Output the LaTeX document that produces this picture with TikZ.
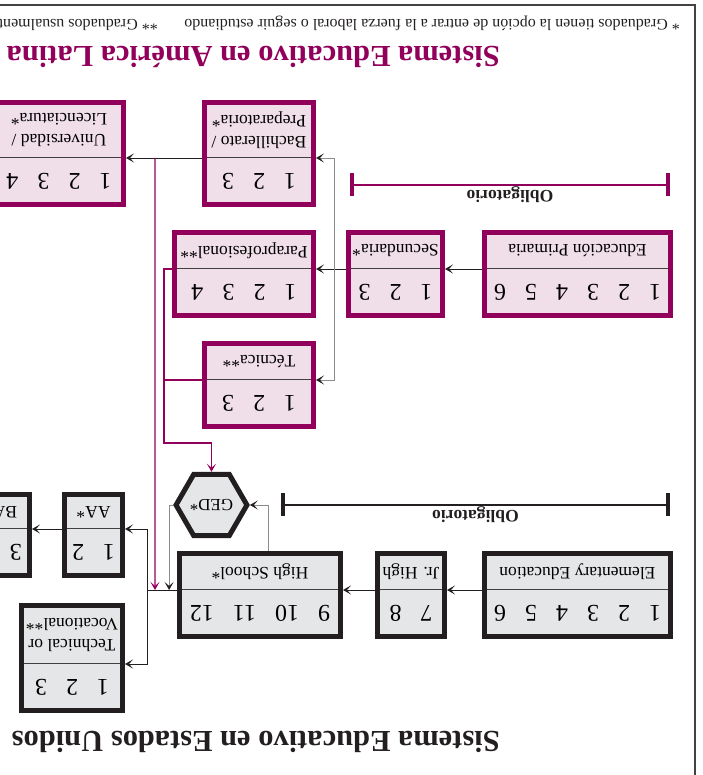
\documentclass[tikz,border=0pt]{standalone}
\usepackage{fontspec}
\setmainfont{Liberation Serif}
\usetikzlibrary{arrows.meta, positioning, calc, shapes.geometric}

\definecolor{vino}{RGB}{145,0,90}
\definecolor{rosa}{RGB}{240,222,232}
\definecolor{perla}{RGB}{229,230,232}
\definecolor{tinta}{RGB}{35,31,32}

\tikzset{
    >={Stealth[length=8pt, width=9pt, inset=4pt]},
    cajalat/.style={draw=vino, fill=rosa, line width=5pt, inner sep=0pt, outer sep=0pt},
    cajausa/.style={draw=tinta, fill=perla, line width=5pt, inner sep=0pt, outer sep=0pt},
    numeros/.style={font=\fontsize{24}{24}\selectfont, inner sep=0pt, outer sep=0pt, minimum height=46.5},
    cabecera/.style={font=\fontsize{17.5}{21}\selectfont, align=center, inner sep=0pt, outer sep=0pt},
    divisor/.style={draw=black!75, line width=1pt, shorten <=2.5pt, shorten >=2.5pt},
    flecha/.style={draw=tinta, line width=0.9pt, ->, shorten <=2.5pt, shorten >=2.5pt},
    ramal/.style={draw=black!45, line width=0.9pt, >={Stealth[length=8pt, width=9pt, inset=4pt, color=tinta]}},
    ruta/.style={draw=vino, line width=1.1pt},
    oblig/.style={{Bar[width=23pt, line width=4.5pt]}-{Bar[width=23pt, line width=4.5pt]}},
    rotulo/.style={font=\fontsize{17.5}{20}\selectfont\bfseries, text=tinta, inner sep=0.5pt},
    ged/.style={regular polygon, regular polygon sides=6, draw=tinta, fill=perla, line width=5pt,
        minimum size=57, inner sep=0pt, font=\fontsize{17}{17}\selectfont},
    nota/.style={font=\fontsize{16}{18}\selectfont, text=tinta, inner sep=0pt, anchor=base west},
    titulo/.style={font=\fontsize{30.5}{36}\selectfont\bfseries, inner sep=0pt, anchor=base west},
}

% #1 nombre, #2 caja, #3 esquina, #4 ancho, #5 alto del nombre, #6 anos, #7 nivel
\newcommand{\etapa}[7]{%
    \node[#2, minimum width=#4, minimum height=46.5+#5, anchor=north west] (#1-caja) at #3 {};
    \node[numeros, minimum width=#4, anchor=north] (#1-n) at (#1-caja.north) {#6};
    \node[cabecera, minimum width=#4, minimum height=#5, anchor=north] (#1) at (#1-n.south) {#7};
    \draw[divisor] (#1.north west) -- (#1.north east);
}
\newcommand{\esp}{\hspace{19pt}}

\begin{document}
\begin{tikzpicture}[x=1pt, y=-1pt, rotate=180, transform shape]
    \useasboundingbox (0,0) rectangle (702,775);
    \draw[tinta!85, line width=2pt] (7,0) -- (7,770) -- (702,770);

    % Estados Unidos
    \node[titulo, text=tinta] (tit-usa) at (202,43) {Sistema Educativo en Estados Unidos};
    \etapa{elem}{cajausa}{(31.5,138.5)}{186}{36.5}{1\esp2\esp3\esp4\esp5\esp6}{Elementary Education}
    \etapa{jrhigh}{cajausa}{(257.5,138.5)}{67}{36.5}{7\esp8}{Jr. High}
    \etapa{high}{cajausa}{(361.5,138.5)}{161}{36.5}{9\esp10\esp11\esp12}{High School*}
    \etapa{tecvoc}{cajausa}{(579.5,64.5)}{101}{58}{1\esp2\esp3}{Technical or\\Vocational**}
    \etapa{aa}{cajausa}{(579.5,199.5)}{58}{34}{1\esp2}{AA*}
    \etapa{bausa}{cajausa}{(672.5,199.5)}{58}{34}{3\esp4}{BA*}
    \node[ged] (ged) at (490.5,270) {GED*};

    \draw[flecha] (elem.north east) -- (jrhigh.north west);
    \draw[flecha] (jrhigh.north east) -- (high.north west);
    \draw[flecha] (high.north east) -- ++(32.5,0) coordinate (usa-r) |- (tecvoc.north west);
    \draw[flecha, shorten <=0pt] (usa-r) |- (aa.north west);
    \draw[flecha] (aa.north east) -- (bausa.north west);
    \draw[ramal, ->, shorten <=2.5pt] ($(high.south west)!0.445!(high.south east)$) |- (ged.west);
    \draw[ramal, ->] (ged.east) -| ($(high.north east)!0.32!(usa-r)$);

    \draw[oblig, draw=tinta, line width=1.5pt] (32,270) -- node[rotulo, above] (obl-usa) {Obligatorio} (421,270);

    % America Latina
    \etapa{prim}{cajalat}{(31.5,459.5)}{186}{36.5}{1\esp2\esp3\esp4\esp5\esp6}{Educación Primaria}
    \etapa{secu}{cajalat}{(259.5,459.5)}{94}{36.5}{1\esp2\esp3}{Secundaria*}
    \etapa{para}{cajalat}{(388.5,459.5)}{139}{36.5}{1\esp2\esp3\esp4}{Paraprofesional**}
    \etapa{tecn}{cajalat}{(388.5,348.5)}{109}{36.5}{1\esp2\esp3}{Técnica**}
    \etapa{bachi}{cajalat}{(388.5,570.5)}{109}{55.5}{1\esp2\esp3}{Bachillerato /\\Preparatoria*}
    \etapa{univ}{cajalat}{(578.5,570.5)}{129}{55.5}{1\esp2\esp3\esp4}{Universidad /\\Licenciatura*}

    \draw[flecha] (prim.north east) -- (secu.north west);
    \draw[flecha] (secu.north east) -- (para.north west);
    \coordinate (lat-r) at ($(secu.north east)!0.41!(para.north west)$);
    \draw[ramal, <->, shorten <=2.5pt, shorten >=2.5pt] (tecn.north west) -| (lat-r) |- (bachi.north west);
    \draw[flecha] (bachi.north east) -- (univ.north west);

    \draw[ruta, ->] (para.north east) -- ++(10.5,0) coordinate (lat-m) -- ++(0,-174) -| (ged.south);
    \draw[ruta] (tecn.north east) -- (tecn.north east -| lat-m);
    \draw[ruta, ->] ($(bachi.north east)!0.611!(univ.north west)$) -- ($(high.north east)!0.754!(usa-r)$);

    \draw[oblig, draw=vino, line width=2pt] (32,590) -- node[rotulo, above] (obl-lat) {Obligatorio} (352,590);

    \node[titulo, text=vino] (tit-lat) at (202,728) {Sistema Educativo en América Latina};
    \node[nota] (nota-1) at (22,755) {* Graduados tienen la opción de entrar a la fuerza laboral o seguir estudiando};
    \node[nota] (nota-2) at (544,755) {** Graduados usualmente};
\end{tikzpicture}
\end{document}
